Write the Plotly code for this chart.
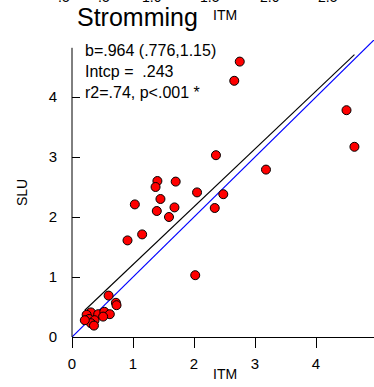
import plotly.graph_objects as go

# ---- data ----
itm = [2.75, 2.66, 4.50, 4.63, 2.36, 3.18, 1.40, 1.70, 1.37, 2.05,
       2.48, 1.45, 1.03, 1.68, 2.34, 1.39, 1.59, 1.15, 0.91, 2.02,
       0.60, 0.72, 0.73, 0.31, 0.43, 0.53, 0.62, 0.24, 0.28, 0.37,
       0.31, 0.36, 0.21, 0.51]
slu = [4.59, 4.27, 3.78, 3.17, 3.03, 2.79, 2.60, 2.59, 2.50, 2.41,
       2.38, 2.30, 2.21, 2.16, 2.15, 2.10, 2.00, 1.71, 1.61, 1.03,
       0.69, 0.57, 0.53, 0.41, 0.38, 0.42, 0.38, 0.37, 0.30, 0.28,
       0.23, 0.19, 0.28, 0.34]
slope = 0.964
intercept = 0.243
identity = [0, 5]
ticks = [0, 1, 2, 3, 4]
stats_lines = ["b=.964 (.776,1.15)", "Intcp =  .243", "r2=.74, p<.001 *"]
top_labels = [".5", ".5", "1.0", "1.5", "2.0", "2.5"]

FONT = "Liberation Sans, Arial, sans-serif"

fit_x = [min(itm), max(itm)]
fit_y = [intercept + slope * v for v in fit_x]

fig = go.Figure()
fig.add_trace(go.Scatter(x=identity, y=identity, mode="lines",
                         line=dict(color="#0000ff", width=1.2), hoverinfo="skip"))
fig.add_trace(go.Scatter(x=fit_x, y=fit_y, mode="lines",
                         line=dict(color="black", width=1.1), hoverinfo="skip"))
fig.add_trace(go.Scatter(x=itm, y=slu, mode="markers",
                         marker=dict(color="#ff0000", size=9,
                                     line=dict(color="black", width=1))))

W, H = 374, 387
L, R, T, B = 72, 0, 40, 50
pw, ph = W - L - R, H - T - B

def px_x(p):
    return (p - L) / pw

def px_y(p):
    return (H - B - p) / ph

ann = []
ann.append(dict(text="Stromming", x=px_x(137), y=px_y(17), xref="paper", yref="paper",
                showarrow=False, font=dict(size=25, color="black", family=FONT),
                xanchor="center", yanchor="middle"))
ann.append(dict(text="ITM", x=px_x(225), y=px_y(15), xref="paper", yref="paper",
                showarrow=False, font=dict(size=14, color="black", family=FONT),
                xanchor="center", yanchor="middle"))
ann.append(dict(text="<br>".join(stats_lines), x=px_x(83), y=1.0, xref="paper", yref="paper",
                showarrow=False, align="left", font=dict(size=16, color="black", family=FONT),
                xanchor="left", yanchor="top"))
ann.append(dict(text="ITM", x=px_x(225), y=px_y(374), xref="paper", yref="paper",
                showarrow=False, font=dict(size=14, color="black", family=FONT),
                xanchor="center", yanchor="middle"))
ann.append(dict(text="SLU", x=px_x(22), y=px_y(192), xref="paper", yref="paper",
                showarrow=False, textangle=-90, font=dict(size=14, color="black", family=FONT),
                xanchor="center", yanchor="middle"))
top_px = [64, 104, 152, 210, 270, 328]
for lab, p in zip(top_labels, top_px):
    ann.append(dict(text=lab, x=px_x(p), y=px_y(-3), xref="paper", yref="paper",
                    showarrow=False, font=dict(size=14, color="black", family=FONT),
                    xanchor="center", yanchor="middle"))

fig.update_layout(
    width=W, height=H,
    margin=dict(l=L, r=R, t=T, b=B, pad=0),
    paper_bgcolor="white", plot_bgcolor="white",
    showlegend=False,
    font=dict(family=FONT, size=14, color="black"),
    annotations=ann,
    xaxis=dict(range=[0, pw / 61.0], tickvals=ticks, ticks="outside", ticklen=10,
               tickcolor="black", showline=True, linecolor="black", linewidth=1,
               showgrid=False, zeroline=False, tickfont=dict(size=15),
               ticklabelstandoff=3),
    yaxis=dict(range=[0, ph / 60.0], tickvals=ticks, ticks="inside", ticklen=8,
               tickcolor="black", showline=False, showgrid=False, zeroline=False,
               tickfont=dict(size=15), ticklabelstandoff=14),
    shapes=[dict(type="line", xref="paper", yref="y", x0=0, x1=0, y0=0, y1=4.82,
                 line=dict(color="black", width=1))],
)

fig.write_html("out.html")
